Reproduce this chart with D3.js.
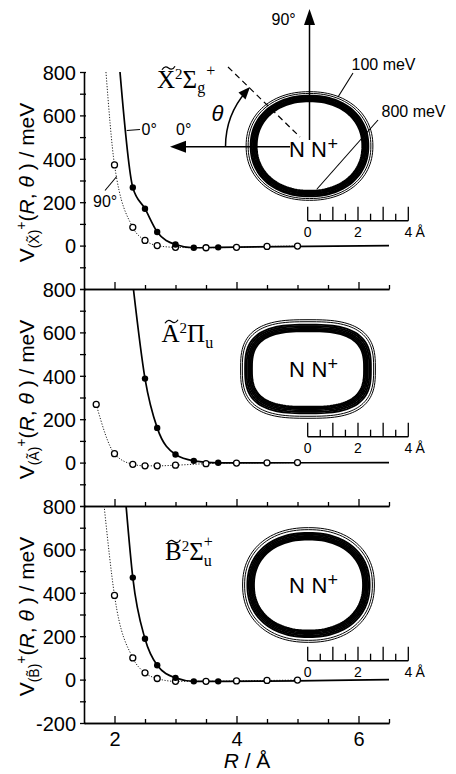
<!DOCTYPE html>
<html>
<head>
<meta charset="utf-8">
<script src="https://cdn.jsdelivr.net/npm/d3@7"></script>
<style>
body { margin: 0; background: #fff; }
svg { display: block; }
</style>
</head>
<body>
<svg width="456" height="774"></svg>
<script>
// R in angstrom, V in meV
const xZeroR = [2.3, 2.5, 2.7, 3.0, 3.3, 3.7]
const xZeroV = [268, 170, 63, 5, -10, -8]
const xNinetyR = [2.0, 2.3, 2.5, 2.7, 3.0, 3.5, 4.0, 4.5, 5.0]
const xNinetyV = [372, 84, 24, 0, -8, -10, -8, -4, -2]

const aZeroR = [2.5, 2.7, 3.0, 3.3, 3.7]
const aZeroV = [387, 160, 37, 8, -1]
const aNinetyR = [1.7, 2.0, 2.3, 2.5, 2.7, 3.0, 3.5, 4.0, 4.5, 5.0]
const aNinetyV = [268, 41, -8, -15, -15, -12, -5, -2, -1, 0]

const bZeroR = [2.3, 2.5, 2.7, 3.0, 3.3, 3.7]
const bZeroV = [470, 188, 66, 8, -8, -8]
const bNinetyR = [2.0, 2.3, 2.5, 2.7, 3.0, 3.5, 4.0, 4.5, 5.0]
const bNinetyV = [388, 100, 31, 5, -8, -8, -6, -4, -2]

// where the fitted curves leave the top of the frame / run out to the right
const xZeroHead = [2.09, 800], xNinetyHead = [1.86, 800]
const aZeroHead = [2.31, 800], aNinetyHead = null
const bZeroHead = [2.19, 800], bNinetyHead = [1.83, 800]
const zeroTail = [6.5, 0]

// contour radii (angstrom) along the axis (0 deg) and across it (90 deg)
const contourLevels = [100, 200, 300, 400, 500, 600, 700, 800]
const xContourRx = [2.52, 2.44, 2.34, 2.29, 2.24, 2.19, 2.14, 2.10]
const xContourRy = [2.16, 2.09, 2.00, 1.95, 1.90, 1.86, 1.82, 1.78]
const aContourRx = [2.68, 2.61, 2.50, 2.44, 2.38, 2.33, 2.28, 2.23]
const aContourRy = [1.96, 1.88, 1.76, 1.70, 1.64, 1.59, 1.54, 1.50]
const bContourRx = [2.62, 2.54, 2.43, 2.37, 2.32, 2.27, 2.22, 2.17]
const bContourRy = [2.28, 2.20, 2.07, 2.01, 1.95, 1.90, 1.85, 1.81]

const yMajor = [-200, 0, 200, 400, 600, 800]
const yMinor = [-100, 100, 300, 500, 700]
const xMajor = [2, 4, 6]
const xMinor = [2.5, 3, 3.5, 4.5, 5, 5.5, 6.5]
const barTicks = [0, 0.5, 1, 1.5, 2, 2.5, 3, 3.5, 4]
const barLabels = [0, 2, 4]

const sans = "'Liberation Sans', Arial, sans-serif"
const serif = "'Liberation Serif', 'Times New Roman', serif"

const svg = d3.select('svg')
const left = 84, right = 389, panelH = 217
const x = d3.scaleLinear().domain([1.5, 6.5]).range([left, right])
const barScale = d3.scaleLinear().domain([0, 4]).range([0, 100.6])

const panels = [
    { id: 'X', top: 72, zr: xZeroR, zv: xZeroV, zh: xZeroHead, nr: xNinetyR, nv: xNinetyV, nh: xNinetyHead,
      rx: xContourRx, ry: xContourRy, pw: 2.15, cx: 309.5, cy: 146, bar: 220.7,
      lab: { x: 157, base: 88, sym: 'Σ', sub: 'g', plus: true, tx: 168.5, ty: 68 }, nBase: 156.7, tight: true },
    { id: 'A', top: 289, zr: aZeroR, zv: aZeroV, zh: aZeroHead, nr: aNinetyR, nv: aNinetyV, nh: aNinetyHead,
      rx: aContourRx, ry: aContourRy, pw: 2.9, cx: 308, cy: 369, bar: 436.7,
      lab: { x: 161.5, base: 341.7, sym: 'Π', sub: 'u', plus: false, tx: 171.5, ty: 321.5 }, nBase: 377.3, tight: false },
    { id: 'B', top: 506, zr: bZeroR, zv: bZeroV, zh: bZeroHead, nr: bNinetyR, nv: bNinetyV, nh: bNinetyHead,
      rx: bContourRx, ry: bContourRy, pw: 2.2, cx: 308.5, cy: 585, bar: 660.7,
      lab: { x: 165, base: 560, sym: 'Σ', sub: 'u', plus: true, tx: 174, ty: 541.5 }, nBase: 593.3, tight: false }
]

// superellipse outline for one contour level
function contourPath(cx, cy, rx, ry, p) {
    const pts = []
    for (let i = 0; i <= 120; i++) {
        const t = i / 120 * 2 * Math.PI
        const c = Math.cos(t), s = Math.sin(t)
        pts.push([cx + barScale(rx) * Math.sign(c) * Math.pow(Math.abs(c), 2 / p),
                  cy - barScale(ry) * Math.sign(s) * Math.pow(Math.abs(s), 2 / p)])
    }
    return d3.line().curve(d3.curveLinearClosed)(pts)
}

// little wave drawn over a state letter
function tildePath(cx, cy) {
    return `M${cx - 6.5},${cy + 1.8} C${cx - 4},${cy - 2.6} ${cx - 1.5},${cy - 1.2} ${cx},${cy}` +
           ` S${cx + 4},${cy + 2.6} ${cx + 6.5},${cy - 1.8}`
}

panels.forEach((p, i) => {
    const bottom = p.top + panelH
    const y = d3.scaleLinear().domain([-200, 800]).range([bottom, p.top])
    const g = svg.append('g')

    svg.append('clipPath').attr('id', 'clip' + p.id)
        .append('rect').attr('x', left).attr('y', p.top).attr('width', right - left).attr('height', panelH)

    // x axis (ticks point up into the panel)
    const xa = g.append('g').attr('transform', `translate(0,${bottom})`)
    xa.call(d3.axisBottom(x).tickValues(xMinor).tickSizeInner(-4).tickSizeOuter(0).tickFormat(''))
    const xb = g.append('g').attr('transform', `translate(0,${bottom})`)
    xb.call(d3.axisBottom(x).tickValues(xMajor).tickSizeInner(-7).tickSizeOuter(0).tickPadding(9)
        .tickFormat(i === 2 ? d3.format('d') : ''))
    ;[xa, xb].forEach(a => {
        a.select('.domain').attr('stroke-width', 1.6)
        a.selectAll('.tick line').attr('stroke-width', 1.3)
        a.selectAll('text').style('font-family', sans).style('font-size', '20px').attr('fill', '#000')
    })

    // y axis
    const ya = g.append('g').attr('transform', `translate(${left},0)`)
    ya.call(d3.axisLeft(y).tickValues(yMinor.concat(yMajor)).tickSizeInner(4).tickSizeOuter(0).tickPadding(4)
        .tickFormat(d => (yMajor.includes(d) && (d > -200 || i === 2)) ? d : ''))
    ya.select('.domain').attr('stroke-width', 1.6)
    ya.selectAll('.tick line').attr('x1', 2).attr('stroke-width', 1.3)
    ya.selectAll('text').style('font-family', sans).style('font-size', '20px').attr('fill', '#000').attr('dy', '0.36em')

    // y axis title
    const t = g.append('text')
        .attr('transform', `translate(34,${p.top + panelH / 2 + 2}) rotate(-90)`)
        .attr('text-anchor', 'middle').style('font-family', sans).style('font-size', '21px')
    t.append('tspan').text('V')
    t.append('tspan').style('font-size', '14px').attr('dy', 5).text('(' + p.id + '\u0303)')
    t.append('tspan').style('font-size', '14px').attr('dy', -13).text('+')
    t.append('tspan').attr('dy', 8).text('(')
    t.append('tspan').style('font-style', 'italic').text('R')
    t.append('tspan').text(', ')
    t.append('tspan').style('font-style', 'italic').text('θ')
    t.append('tspan').text(' ) / meV')

    // curves
    const line = d3.line().x(d => x(d[0])).y(d => y(d[1])).curve(d3.curveMonotoneX)
    const zeroPts = (p.zh ? [p.zh] : []).concat(d3.zip(p.zr, p.zv), [zeroTail])
    const ninetyPts = (p.nh ? [p.nh] : []).concat(d3.zip(p.nr, p.nv))
    const cg = g.append('g').attr('clip-path', `url(#clip${p.id})`)
    cg.append('path').attr('d', line(ninetyPts)).attr('fill', 'none')
        .attr('stroke', '#222').attr('stroke-width', 1).attr('stroke-dasharray', '1.2,1.6')
    cg.append('path').attr('d', line(zeroPts)).attr('fill', 'none')
        .attr('stroke', '#000').attr('stroke-width', 1.7)
    cg.selectAll('.open').data(d3.zip(p.nr, p.nv)).join('circle')
        .attr('cx', d => x(d[0])).attr('cy', d => y(d[1])).attr('r', 3)
        .attr('fill', '#fff').attr('stroke', '#000').attr('stroke-width', 1.3)
    cg.selectAll('.filled').data(d3.zip(p.zr, p.zv)).join('circle')
        .attr('cx', d => x(d[0])).attr('cy', d => y(d[1])).attr('r', 3.2).attr('fill', '#000')

    // state label
    const L = p.lab
    const st = g.append('text').attr('x', L.x).attr('y', L.base)
        .style('font-family', serif).style('font-size', '25px')
    st.append('tspan').text(p.id)
    st.append('tspan').style('font-size', '15px').attr('dy', -9).text('2')
    st.append('tspan').attr('dy', 9).text(L.sym)
    st.append('tspan').style('font-size', '16px').attr('dy', L.plus && p.id === 'X' ? 5 : 6).text(L.sub)
    if (L.plus) {
        st.append('tspan').style('font-size', '16px')
            .attr('dx', p.id === 'X' ? 1 : -8).attr('dy', p.id === 'X' ? -17 : -19).text('+')
    }
    g.append('path').attr('d', tildePath(L.tx, L.ty))
        .attr('fill', 'none').attr('stroke', '#000').attr('stroke-width', 1.3)

    // inset: contours
    const ig = g.append('g')
    contourLevels.forEach((lv, k) => {
        ig.append('path').attr('d', contourPath(p.cx, p.cy, p.rx[k], p.ry[k], p.pw))
            .attr('fill', 'none').attr('stroke', '#000').attr('stroke-width', k < 2 ? 1 : 1.9)
    })
    ig.append('text').attr('x', 289).attr('y', p.nBase).style('font-family', sans).style('font-size', '22px').text('N')
    ig.append('text').attr('x', p.tight ? 311 : 311.5).attr('y', p.nBase).style('font-family', sans).style('font-size', '22px').text('N')
    ig.append('text').attr('x', 327.5).attr('y', p.nBase - 7).style('font-family', sans).style('font-size', '18px').text('+')

    // inset: scale bar
    const sb = g.append('g').attr('transform', `translate(307.7,${p.bar})`)
    sb.append('line').attr('x1', 0).attr('x2', barScale(4)).attr('stroke', '#000').attr('stroke-width', 1.4)
    sb.selectAll('line.t').data(barTicks).join('line')
        .attr('x1', d => barScale(d)).attr('x2', d => barScale(d))
        .attr('y1', 0).attr('y2', d => d % 1 === 0 ? -14 : -7)
        .attr('stroke', '#000').attr('stroke-width', 1.3)
    sb.selectAll('text.l').data(barLabels).join('text')
        .attr('x', d => barScale(d)).attr('y', 16).attr('text-anchor', 'middle')
        .style('font-family', sans).style('font-size', '14px').text(d => d)
    sb.append('text').attr('x', barScale(4) + 12).attr('y', 16).attr('text-anchor', 'middle')
        .style('font-family', sans).style('font-size', '14px').text('Å')
})

// extra annotations in the top panel
const a = svg.append('g').attr('stroke', '#000').attr('fill', 'none')
a.append('line').attr('x1', 309.5).attr('y1', 140).attr('x2', 309.5).attr('y2', 22).attr('stroke-width', 1.5)
svg.append('path').attr('d', 'M309.5,9 L304,25 L315,25 Z').attr('fill', '#000')
a.append('line').attr('x1', 290).attr('y1', 146.7).attr('x2', 182).attr('y2', 146.7).attr('stroke-width', 1.5)
svg.append('path').attr('d', 'M170,146.7 L186,140.7 L186,152.7 Z').attr('fill', '#000')
a.append('line').attr('x1', 228).attr('y1', 67).attr('x2', 300).attr('y2', 137)
    .attr('stroke-width', 1.2).attr('stroke-dasharray', '6,4')
// theta arc from the axis up to the dashed line
const arc = d3.arc().innerRadius(84).outerRadius(84).startAngle(-Math.PI / 2).endAngle(-Math.PI / 4 - 0.06)
a.append('path').attr('transform', 'translate(309.5,146.7)').attr('d', arc()).attr('stroke-width', 1.5)
svg.append('path').attr('d', 'M250,87 L238.5,92.5 L245.5,99.5 Z').attr('fill', '#000')
a.append('line').attr('x1', 338).attr('y1', 97).attr('x2', 353).attr('y2', 73).attr('stroke-width', 1.1)
a.append('line').attr('x1', 317).attr('y1', 189).attr('x2', 378).attr('y2', 120).attr('stroke-width', 1.1)
a.append('line').attr('x1', 126.7).attr('y1', 130.5).attr('x2', 140).attr('y2', 129.5).attr('stroke-width', 1.1)
a.append('line').attr('x1', 116.7).attr('y1', 176.5).attr('x2', 105).attr('y2', 190.5).attr('stroke-width', 1.1)

const ann = [
    { t: '0°', x: 141.5, y: 135, s: 16 },
    { t: '90°', x: 93, y: 207, s: 16 },
    { t: '0°', x: 176, y: 135, s: 16 },
    { t: '90°', x: 271.5, y: 25, s: 16 },
    { t: '100 meV', x: 351.5, y: 70, s: 16 },
    { t: '800 meV', x: 381.5, y: 117, s: 16 }
]
svg.selectAll('text.ann').data(ann).join('text')
    .attr('x', d => d.x).attr('y', d => d.y)
    .style('font-family', sans).style('font-size', d => d.s + 'px').text(d => d.t)
svg.append('text').attr('x', 211.5).attr('y', 121).style('font-family', sans)
    .style('font-style', 'italic').style('font-size', '22px').text('θ')

// x axis title
const xt = svg.append('text').attr('x', 247).attr('y', 768).attr('text-anchor', 'middle')
    .style('font-family', sans).style('font-size', '21px')
xt.append('tspan').style('font-style', 'italic').text('R')
xt.append('tspan').text(' / Å')
</script>
</body>
</html>
